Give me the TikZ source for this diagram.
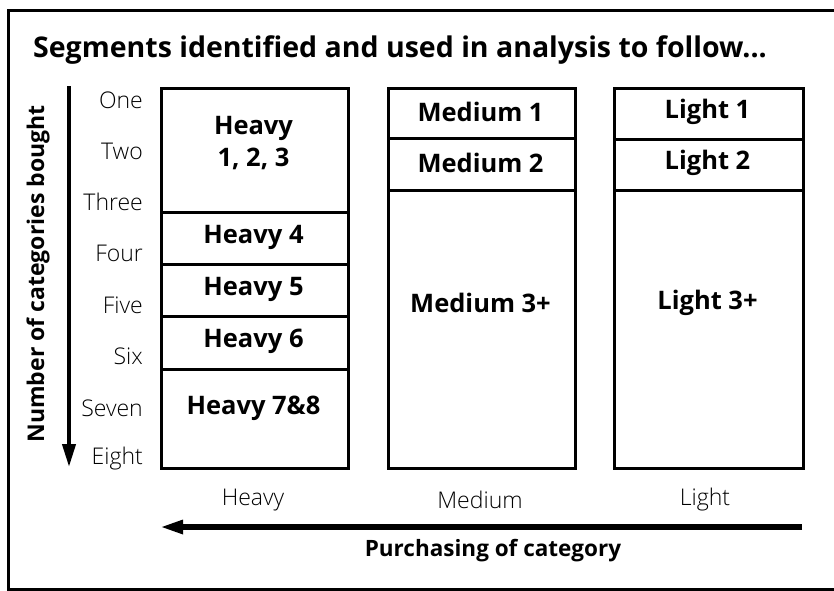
\documentclass[tikz,border=0pt]{standalone}
\usepackage{fontspec}
\setmainfont{Open Sans}
\newfontfamily\lightfont{Open Sans Light}
\usetikzlibrary{arrows.meta}
\tikzset{
  seg/.style={draw, line width=2.5pt, anchor=north west, inner sep=0pt},
  segtext/.style={font=\fontsize{25.5}{30}\selectfont\bfseries, align=center},
  rowlabel/.style={font=\fontsize{23}{27}\selectfont\lightfont, anchor=east, inner sep=0pt},
  collabel/.style={font=\fontsize{23}{27}\selectfont\lightfont, inner sep=0pt},
  bigarrow/.style={-{Triangle[length=23pt,width=13pt]}},
}
\begin{document}
\begin{tikzpicture}[x=1pt,y=-1pt]
\useasboundingbox (0,0) rectangle (834,590);
% frame (open on the right)
\draw[line width=3pt] (834,10) -- (8,10) -- (8,589) -- (834,589);
\node[font=\fontsize{28.5}{33}\selectfont\bfseries, anchor=west, inner sep=0pt] (title) at (33,50) {Segments identified and used in analysis to follow...};
% Heavy column
\node[seg, minimum width=187, minimum height=124] (h123) at (160,87) {};
\node[seg, minimum width=187, minimum height=52] (h4) at (160,211) {};
\node[seg, minimum width=187, minimum height=52] (h5) at (160,263) {};
\node[seg, minimum width=187, minimum height=53] (h6) at (160,315) {};
\node[seg, minimum width=187, minimum height=99] (h78) at (160,368) {};
\node[segtext] (t123) at (253.5,143) {Heavy\\[2pt]1, 2, 3};
\node[segtext] (t4) at (253.5,237) {Heavy 4};
\node[segtext] (t5) at (253.5,289) {Heavy 5};
\node[segtext] (t6) at (253.5,341) {Heavy 6};
\node[segtext] (t78) at (253.5,408) {Heavy 7\&8};
% Medium column
\node[seg, minimum width=187, minimum height=50] (m1) at (387,87) {};
\node[seg, minimum width=187, minimum height=52] (m2) at (387,137) {};
\node[seg, minimum width=187, minimum height=278] (m3) at (387,189) {};
\node[segtext] (tm1) at (480.5,112) {Medium 1};
\node[segtext] (tm2) at (480.5,163) {Medium 2};
\node[segtext] (tm3) at (480.5,303) {Medium 3+};
% Light column
\node[seg, minimum width=189, minimum height=51] (l1) at (613,87) {};
\node[seg, minimum width=189, minimum height=51] (l2) at (613,138) {};
\node[seg, minimum width=189, minimum height=278] (l3) at (613,189) {};
\node[segtext] (tl1) at (707.5,112) {Light 1};
\node[segtext] (tl2) at (707.5,163) {Light 2};
\node[segtext] (tl3) at (707.5,303) {Light 3+};
% row labels
\node[rowlabel] (r1) at (143,100) {One};
\node[rowlabel] (r2) at (143,151) {Two};
\node[rowlabel] (r3) at (143,202) {Three};
\node[rowlabel] (r4) at (143,253) {Four};
\node[rowlabel] (r5) at (143,305) {Five};
\node[rowlabel] (r6) at (143,356) {Six};
\node[rowlabel] (r7) at (143,408) {Seven};
\node[rowlabel] (r8) at (143,459) {Eight};
% vertical arrow
\coordinate (vtop) at (69,86);
\coordinate (vbot) at (69,467);
\draw[bigarrow, line width=4pt] (vtop) -- (vbot);
\node[font=\fontsize{23}{27}\selectfont\bfseries, rotate=90, inner sep=0pt] (ylab) at (38,274) {Number of categories bought};
% column labels
\node[collabel] (ch) at (253,500) {Heavy};
\node[collabel] (cm) at (480,500) {Medium};
\node[collabel] (cl) at (705,500) {Light};
% horizontal arrow
\coordinate (hright) at (802,527);
\coordinate (hleft) at (160,527);
\draw[bigarrow, line width=5.5pt] (hright) -- (hleft);
\node[font=\fontsize{22.5}{27}\selectfont\bfseries, inner sep=0pt] (xlab) at (493,551) {Purchasing of category};
\end{tikzpicture}
\end{document}
